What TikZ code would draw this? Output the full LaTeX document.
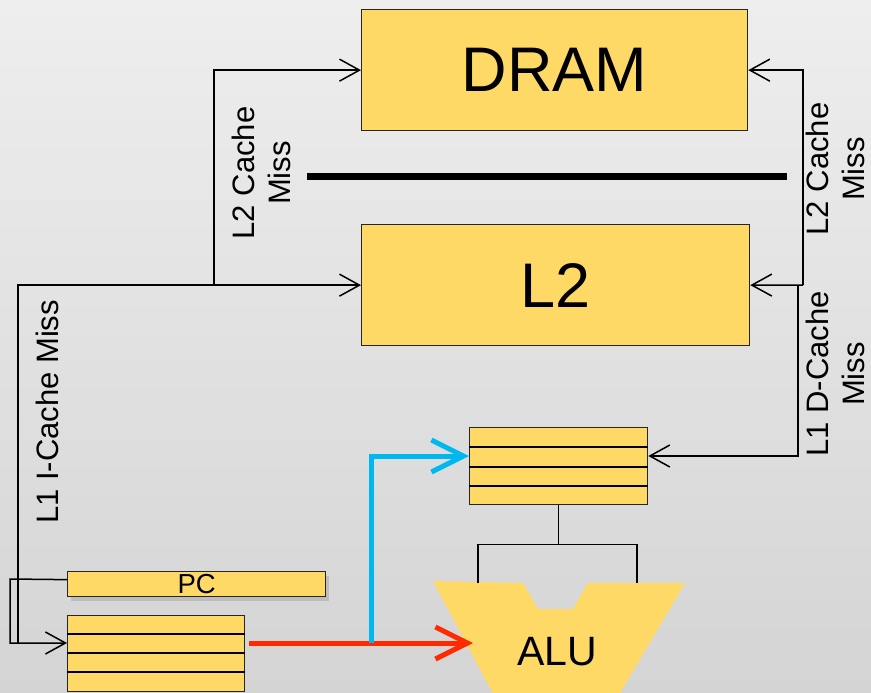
\documentclass[tikz,border=0pt]{standalone}
\usepackage{fontspec}
\setmainfont{Liberation Sans}
\usetikzlibrary{arrows.meta,shadows,calc}
\definecolor{boxfill}{RGB}{255,217,102}
\definecolor{redarr}{RGB}{255,42,0}
\definecolor{bluearr}{RGB}{0,184,240}
\tikzset{
  box/.style={draw=black!85, line width=1.3pt, fill=boxfill, inner sep=0pt, anchor=north west},
  conn/.style={draw=black, line width=1.5pt},
  barb/.style={-{Straight Barb[length=20pt,width=22pt]}},
  bigbarb/.style={-{Straight Barb[length=32pt,width=32pt]}},
  lbl/.style={rotate=90, align=center, font=\fontsize{31}{36}\selectfont, inner sep=0pt},
}
\begin{document}
\begin{tikzpicture}[x=1pt,y=-1pt]
\shade[top color={rgb,255:red,238;green,238;blue,238}, bottom color={rgb,255:red,212;green,212;blue,212}] (0,0) rectangle (871,693);
\useasboundingbox (0,0) rectangle (871,693);

% memory boxes
\node[box, minimum width=386pt, minimum height=121pt, font=\fontsize{63}{70}\selectfont] (dram) at (361,9) {DRAM};
\node[box, minimum width=388pt, minimum height=121pt, font=\fontsize{63}{70}\selectfont] (l2) at (361,224) {L2};
\draw[line width=7pt] (307,176) -- (787,176);

% PC and caches
\node[box, minimum width=258pt, minimum height=25pt, font=\fontsize{27.5}{30}\selectfont,
      drop shadow={opacity=0.3, shadow xshift=3pt, shadow yshift=-4pt}] (pc) at (67,571) {PC};
\node[box, minimum width=177pt, minimum height=76pt] (icache) at (67,615) {};
\foreach \d in {19,38,57}
  \draw[line width=1.3pt] ($(icache.north west)+(0,\d)$) -- ($(icache.north east)+(0,\d)$);
\node[box, minimum width=178pt, minimum height=77pt] (dcache) at (469,427) {};
\foreach \d in {20,40,59}
  \draw[line width=1.3pt] ($(dcache.north west)+(0,\d)$) -- ($(dcache.north east)+(0,\d)$);

\coordinate (iin) at ($(icache.north west)+(0,28)$);
\coordinate (iout) at ($(icache.north east)+(4,28)$);
\coordinate (din) at ($(dcache.north west)+(0,29)$);
\coordinate (dinr) at ($(dcache.north east)+(0,29)$);

% ALU
\begin{scope}
\clip (0,0) rectangle (871,693);
\fill[boxfill] (433,581) -- (523,583) -- (538,609) -- (573,609) -- (588,583) -- (685,583)
  -- (604,720) -- (507,720) -- cycle;
\end{scope}
\node[font=\fontsize{41}{45}\selectfont, inner sep=0pt] (alu) at (557,652) {ALU};
\coordinate (aluin) at (473,643);
\coordinate (alul) at (478,583);
\coordinate (alur) at (637,583);

% D-cache to ALU
\coordinate (split) at ($(dcache.south)+(0,39)$);
\draw[conn] (dcache.south) -- (split);
\draw[conn] (alul) |- (split) -| (alur);

% PC to I-cache
\coordinate (pcout) at ($(pc.west)+(0,-4.5)$);
\coordinate (pcl) at (10,579);
\draw[conn, barb] (pcout) -- (pcl) |- (iin);

% L1 I-cache miss
\coordinate (imiss) at (18,643);
\coordinate (jl) at (214,285);
\draw[conn, barb] (imiss) |- (l2.west);
\draw[conn, barb] (jl) |- (dram.west);

% right side
\coordinate (jr) at (803,285);
\coordinate (jd) at (798,285);
\draw[conn, barb] (jr) -- (l2.east);
\draw[conn, barb] (jr) |- (dram.east);
\draw[conn, barb] (jd) |- (dinr);

% red and blue
\draw[redarr, line width=5pt, bigbarb] (iout) -- (aluin);
\coordinate (bstart) at (371,643);
\draw[bluearr, line width=5pt, bigbarb] (bstart) |- (din);

% labels
\node[lbl] (lab1) at (261,173) {L2 Cache\\Miss};
\node[lbl] (lab2) at (835,169) {L2 Cache\\Miss};
\node[lbl] (lab3) at (835,374) {L1 D-Cache\\Miss};
\node[lbl] (lab4) at (47,412) {L1 I-Cache Miss};
\end{tikzpicture}
\end{document}
